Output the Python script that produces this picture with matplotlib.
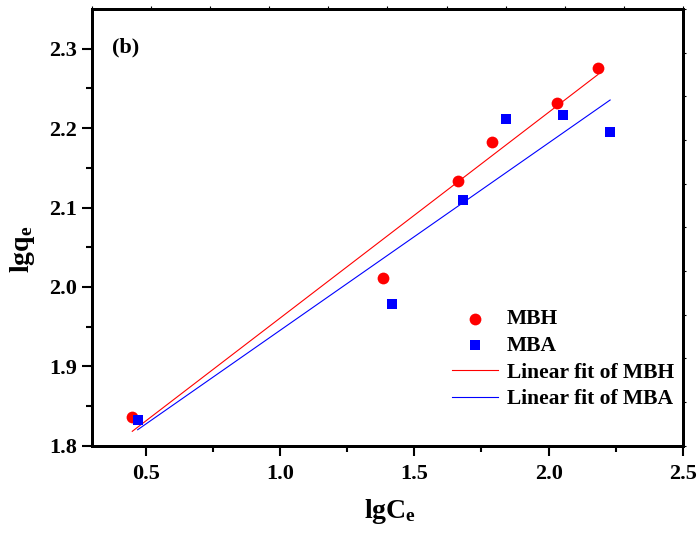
import numpy as np
import matplotlib
matplotlib.use("Agg")
import matplotlib.pyplot as plt

plt.rcParams['font.family'] = ['Liberation Serif', 'DejaVu Serif']
plt.rcParams['font.weight'] = 'bold'
plt.rcParams['mathtext.fontset'] = 'custom'
plt.rcParams['mathtext.bf'] = 'Liberation Serif:bold'
plt.rcParams['mathtext.rm'] = 'Liberation Serif:bold'

# Freundlich isotherm data (log-log form)
mbh_lgce = [0.450, 1.383, 1.663, 1.791, 2.032, 2.184]
mbh_lgqe = [1.836, 2.011, 2.134, 2.183, 2.232, 2.276]
mba_lgce = [0.470, 1.418, 1.682, 1.843, 2.054, 2.229]
mba_lgqe = [1.832, 1.979, 2.109, 2.212, 2.217, 2.195]

x_ticks = [0.5, 1.0, 1.5, 2.0, 2.5]
y_ticks = [1.8, 1.9, 2.0, 2.1, 2.2, 2.3]

fig = plt.figure(figsize=(6.99, 5.34), dpi=100)
ax = fig.add_axes([0.1316, 0.1654, 0.8454, 0.8177])

ax.scatter(mbh_lgce, mbh_lgqe, s=72, marker='o', color='#ff0000', linewidths=0, label='MBH', zorder=3)
ax.scatter(mba_lgce, mba_lgqe, s=52, marker='s', color='#0000ff', linewidths=0, label='MBA', zorder=3)

for xs, ys, col, name in [(mbh_lgce, mbh_lgqe, '#ff0000', 'MBH'),
                          (mba_lgce, mba_lgqe, '#0000ff', 'MBA')]:
    k, b = np.polyfit(xs, ys, 1)
    xf = np.array([min(xs), max(xs)])
    ax.plot(xf, k * xf + b, color=col, lw=0.8, label='Linear fit of ' + name, zorder=2)

ax.set_xlim(0.3, 2.5)
ax.set_ylim(1.8, 2.35)
ax.set_xticks(x_ticks)
ax.set_yticks(y_ticks)
ax.set_xticks([0.75, 1.25, 1.75, 2.25], minor=True)
ax.set_yticks([1.85, 1.95, 2.05, 2.15, 2.25], minor=True)
ax.set_xticklabels([f'{v:.1f}' for v in x_ticks])
ax.set_yticklabels([f'{v:.1f}' for v in y_ticks])
ax.tick_params(which='major', direction='out', length=7, width=1.5, labelsize=16)
ax.tick_params(axis='x', which='major', pad=6)
ax.tick_params(axis='y', which='major', pad=3.5)
ax.tick_params(which='minor', direction='out', length=4, width=1.5)
for s in ax.spines.values():
    s.set_linewidth(2)

# unlabelled outer ticks on top and right frame
axt = ax.twiny()
axt.set_xlim(0, 1)
axt.set_xticks(np.linspace(0, 1, 11))
axt.tick_params(axis='x', direction='out', length=2.5, width=0.8, labeltop=False)
axr = ax.twinx()
axr.set_ylim(0, 1)
axr.set_yticks(np.linspace(0, 1, 11))
axr.tick_params(axis='y', direction='out', length=2.5, width=0.8, labelright=False)
for a in (axt, axr):
    for s in a.spines.values():
        s.set_linewidth(2)

ax.set_xlabel(r'$\mathbf{lgC_e}$', fontsize=20)
ax.set_ylabel(r'$\mathbf{lgq_e}$', fontsize=20)
ax.xaxis.set_label_coords(0.504, -0.118)
ax.yaxis.set_label_coords(-0.093, 0.45)

ax.text(0.034, 0.913, '(b)', transform=ax.transAxes, fontsize=16, fontweight='bold',
        va='center', ha='left')

ax.legend(loc='center left', bbox_to_anchor=(0.609, 0.198), frameon=False,
          fontsize=15.5, handlelength=2.15, handletextpad=0.4, labelspacing=0.3,
          borderaxespad=0, borderpad=0, scatterpoints=1)

fig.savefig('out.png', dpi=100)
